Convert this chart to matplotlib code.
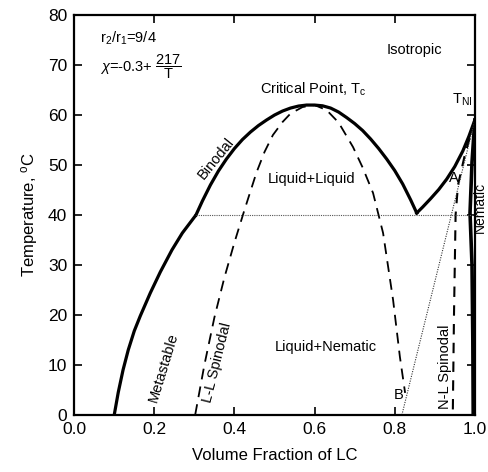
import matplotlib
matplotlib.use("Agg")
import matplotlib.pyplot as plt

plt.rcParams['font.family'] = ['Liberation Sans', 'DejaVu Sans']
plt.rcParams['mathtext.fontset'] = 'custom'
plt.rcParams['mathtext.rm'] = 'Liberation Sans'
plt.rcParams['mathtext.it'] = 'Liberation Sans:italic'

# Binodal, lower left branch (liquid-nematic)
bin_low_x = [0.100, 0.110, 0.122, 0.135, 0.150, 0.165, 0.190, 0.215, 0.244, 0.270, 0.304]
bin_low_y = [0.0, 4.5, 9.0, 13.0, 16.8, 19.8, 24.4, 28.6, 33.0, 36.4, 40.0]
# Binodal, liquid-liquid arch
bin_arch_x = [0.304, 0.32, 0.34, 0.36, 0.38, 0.40, 0.42, 0.44, 0.46, 0.48, 0.50,
              0.52, 0.54, 0.56, 0.58, 0.60, 0.62, 0.64, 0.66, 0.68, 0.70, 0.72,
              0.74, 0.76, 0.78, 0.80, 0.82, 0.84, 0.855]
bin_arch_y = [40.0, 42.8, 46.0, 48.8, 51.2, 53.3, 55.1, 56.6, 57.9, 59.0, 60.0,
              60.8, 61.4, 61.8, 62.0, 62.0, 61.85, 61.4, 60.6, 59.5, 58.3, 56.9,
              55.2, 53.3, 51.2, 48.9, 46.2, 43.0, 40.4]
# Binodal, right rising branch to T_NI
bin_right_x = [0.855, 0.87, 0.89, 0.91, 0.93, 0.95, 0.97, 0.985, 1.0]
bin_right_y = [40.4, 41.6, 43.3, 45.1, 47.2, 49.7, 52.8, 55.7, 59.0]
# Nematic-side binodal
nem_x = [1.0, 0.993, 0.988, 0.993, 0.995, 0.996]
nem_y = [59.0, 50.6, 40.4, 30.0, 15.0, 0.0]
# L-L spinodal
ll_x = [0.302, 0.325, 0.35, 0.375, 0.40, 0.425, 0.455, 0.475, 0.496, 0.52, 0.54,
        0.57, 0.60, 0.63, 0.66, 0.696, 0.72, 0.746, 0.771, 0.796, 0.813, 0.826]
ll_y = [0.0, 10.0, 19.5, 27.5, 34.5, 41.0, 48.5, 52.6, 56.0, 58.6, 60.3,
        61.6, 62.0, 61.0, 58.5, 53.6, 49.5, 44.4, 36.4, 23.0, 11.6, 4.4]
# N-L spinodal
nl_x = [1.0, 0.975, 0.958, 0.952, 0.948, 0.945]
nl_y = [59.0, 52.0, 46.0, 40.0, 20.0, 0.0]
# Dotted guide lines
tie_x = [0.304, 1.0]
tie_y = [40.0, 40.0]
ab_x = [0.818, 1.0]
ab_y = [0.0, 59.0]

xticks = [0.0, 0.2, 0.4, 0.6, 0.8, 1.0]
xticklabels = ['0.0', '0.2', '0.4', '0.6', '0.8', '1.0']
yticks = [0, 10, 20, 30, 40, 50, 60, 70, 80]

fig = plt.figure(figsize=(4.88, 4.72), dpi=100)
ax = fig.add_axes([0.152, 0.121, 0.821, 0.847])

lwb = 2.3
ax.plot(bin_low_x, bin_low_y, color='black', lw=lwb, solid_capstyle='butt',
        solid_joinstyle='round')
ax.plot(bin_arch_x, bin_arch_y, color='black', lw=lwb, solid_joinstyle='round')
ax.plot(bin_right_x, bin_right_y, color='black', lw=lwb, solid_joinstyle='round')
ax.plot(nem_x, nem_y, color='black', lw=2.6)
ax.plot(ll_x, ll_y, color='black', lw=1.3, dashes=(6, 4))
ax.plot(nl_x, nl_y, color='black', lw=1.5, dashes=(5, 4))
ax.plot(tie_x, tie_y, color='#555555', lw=0.8, linestyle=(0, (1, 1)))
ax.plot(ab_x, ab_y, color='#333333', lw=0.8, linestyle=(0, (1, 1.2)))

ax.set_xlim(0, 1.0)
ax.set_ylim(0, 80)
ax.set_xticks(xticks)
ax.set_xticklabels(xticklabels)
ax.set_yticks(yticks)
ax.tick_params(direction='in', length=6, width=1.2, top=True, right=True,
               labelsize=12.5, pad=5)
for s in ax.spines.values():
    s.set_linewidth(1.6)

ax.set_xlabel('Volume Fraction of LC', fontsize=12, labelpad=8)
ax.set_ylabel(r'Temperature, $^{\rm o}$C', fontsize=12, labelpad=6)

fs = 10.5
ax.text(0.065, 75.4, r'r$_2$/r$_1$=9/4', fontsize=fs, ha='left', va='center')
ax.text(0.065, 69.6, r'$\chi$=-0.3+ $\dfrac{217}{\rm T}$', fontsize=fs, ha='left', va='center')
ax.text(0.85, 73.0, 'Isotropic', fontsize=fs, ha='center', va='center')
ax.text(0.597, 65.2, r'Critical Point, T$_{\rm c}$', fontsize=fs, ha='center', va='center')
ax.text(0.943, 63.0, r'T$_{\rm NI}$', fontsize=fs, ha='left', va='center')
ax.text(0.354, 51.4, 'Binodal', fontsize=fs, ha='center', va='center', rotation=51)
ax.text(0.593, 47.2, 'Liquid+Liquid', fontsize=fs, ha='center', va='center')
ax.text(0.948, 47.4, 'A', fontsize=fs, ha='center', va='center')
ax.text(1.012, 41.6, 'Nematic', fontsize=10, ha='center', va='center', rotation=90,
        clip_on=False)
ax.text(0.222, 9.4, 'Metastable', fontsize=fs, ha='center', va='center', rotation=73)
ax.text(0.357, 10.4, 'L-L Spinodal', fontsize=fs, ha='center', va='center', rotation=76)
ax.text(0.627, 13.6, 'Liquid+Nematic', fontsize=fs, ha='center', va='center')
ax.text(0.81, 4.0, 'B', fontsize=fs, ha='center', va='center')
ax.text(0.925, 9.6, 'N-L Spinodal', fontsize=fs, ha='center', va='center', rotation=90)

fig.savefig('out.png', dpi=100)
